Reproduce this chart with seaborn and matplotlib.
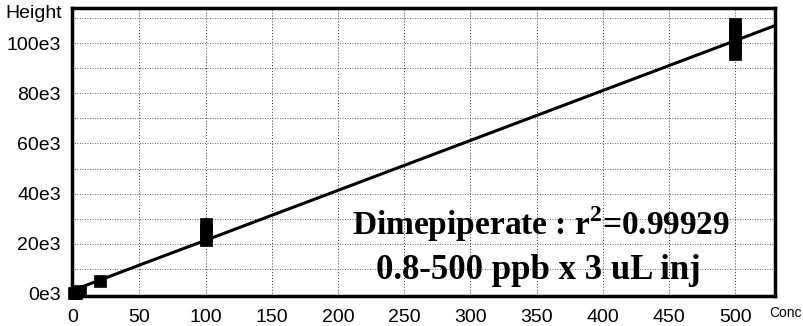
import matplotlib
matplotlib.use("Agg")
import matplotlib.pyplot as plt
import seaborn as sns
import pandas as pd
from matplotlib.ticker import MultipleLocator

# ---- data ----
conc = [0.8, 2, 5, 20, 100, 100, 100, 100, 500, 500, 500, 500, 500, 500]
height = [200, 500, 1100, 5000, 21500, 23500, 25500, 27800,
          95500, 98000, 100500, 103000, 105500, 107500]
fit_conc = [0, 50, 100, 200, 300, 400, 500, 530]
fit_height = [1500, 11500, 21400, 41300, 61200, 81100, 101000, 107000]
x_ticks = [0, 50, 100, 150, 200, 250, 300, 350, 400, 450, 500]
y_ticks = [0, 20000, 40000, 60000, 80000, 100000]
y_tick_labels = ["0e3", "20e3", "40e3", "60e3", "80e3", "100e3"]
annot_line1 = "Dimepiperate : r$^{\\mathbf{2}}$=0.99929"
annot_line2 = "0.8-500 ppb x 3 uL inj"

pts = pd.DataFrame({"conc": conc, "height": height})
fit = pd.DataFrame({"conc": fit_conc, "height": fit_height})

sns.set_style("white")
plt.rcParams["font.family"] = ["Liberation Sans", "DejaVu Sans"]
plt.rcParams["text.color"] = "black"
plt.rcParams["xtick.color"] = "black"
plt.rcParams["ytick.color"] = "black"
plt.rcParams["mathtext.fontset"] = "custom"
plt.rcParams["mathtext.bf"] = "Liberation Serif:bold"
plt.rcParams["mathtext.rm"] = "Liberation Serif:bold"

fig = plt.figure(figsize=(8.04, 3.26), dpi=100)
ax = fig.add_axes([72 / 804, 30 / 326, (775 - 72) / 804, (296 - 8) / 326])

sns.lineplot(data=fit, x="conc", y="height", ax=ax, color="black",
             linewidth=2.2, zorder=3)
sns.scatterplot(data=pts, x="conc", y="height", ax=ax, marker="s",
                color="black", s=80, edgecolor="black", linewidth=0.5,
                zorder=4, clip_on=False)

ax.set_xlim(-0.8, 530)
ax.set_ylim(-800, 114000)
ax.set_xticks(x_ticks)
ax.set_xticklabels([str(v) for v in x_ticks])
ax.set_yticks(y_ticks)
ax.set_yticklabels(y_tick_labels)
ax.xaxis.set_minor_locator(MultipleLocator(10))
ax.yaxis.set_minor_locator(MultipleLocator(2000))

ax.set_xlabel("")
ax.set_ylabel("")

# grid
for gx in range(50, 530, 50):
    ax.axvline(gx, color="#333333", linewidth=0.7, linestyle=(0, (1, 2)), zorder=1)
for gy in range(10000, 114000, 10000):
    ax.axhline(gy, color="#333333", linewidth=0.6, linestyle=(0, (1, 2)), zorder=1)

for sp in ax.spines.values():
    sp.set_linewidth(2.5)
    sp.set_color("black")

ax.tick_params(axis="both", which="major", direction="out", length=7,
               width=1.5, color="black", labelsize=14, pad=1,
               labelcolor="black")
ax.tick_params(axis="both", which="minor", direction="out", length=4,
               width=1.2, color="black")
ax.tick_params(axis="x", which="major", pad=2)

# annotation
serif = ["Liberation Serif", "DejaVu Serif"]
ax.text(353, 28000, annot_line1, ha="center", va="center",
        family=serif, fontweight="bold", fontsize=24, color="black", zorder=5)
ax.text(351, 9400, annot_line2, ha="center", va="center",
        family=serif, fontweight="bold", fontsize=25, color="black", zorder=5)

fig.text(34 / 804, 1 - 13 / 326, "Height", ha="center", va="center",
         fontsize=14, color="black")
fig.text(802 / 804, 1 - 313 / 326, "Conc", ha="right", va="center",
         fontsize=10, color="black")

fig.savefig("out.png", dpi=100)
